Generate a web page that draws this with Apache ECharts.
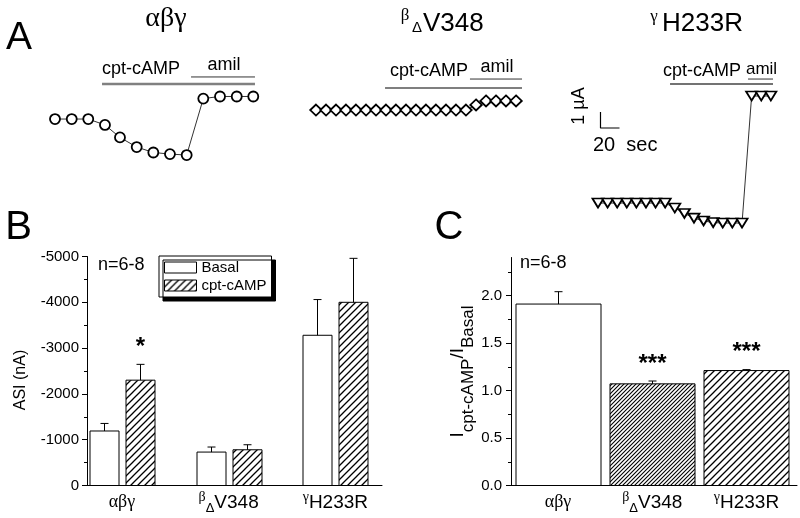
<!DOCTYPE html>
<html>
<head>
<meta charset="utf-8">
<script src="https://cdn.jsdelivr.net/npm/echarts@6.0.0/dist/echarts.min.js"></script>
<style>html,body{margin:0;padding:0;background:#fff;}#chart{width:800px;height:518px;}</style>
</head>
<body>
<div id="chart"></div>
<script>
// ---------------- DATA ----------------
// Panel A: example current traces (time in s, current in µA)
const trace1Time = [57.9, 75.5, 92.9, 110.5, 126.3, 143.9, 161.4, 178.9, 196.5, 214.0, 231.6, 249.2, 266.6];
const trace1Current = [-7.44, -7.44, -7.44, -7.81, -8.59, -9.19, -9.53, -9.63, -9.69, -6.16, -6.03, -6.03, -6.03];
const trace2Time = [332.6, 343.2, 353.7, 364.2, 374.7, 385.3, 395.8, 406.3, 416.8, 427.4, 437.9, 448.4, 458.9, 469.5, 480.0, 490.5, 501.1, 511.6, 522.1, 532.6, 543.2];
const trace2Current = [-6.88, -6.88, -6.88, -6.88, -6.88, -6.88, -6.88, -6.88, -6.88, -6.88, -6.88, -6.88, -6.88, -6.88, -6.88, -6.88, -6.56, -6.31, -6.31, -6.31, -6.31];
const trace3Time = [629.5, 639.6, 649.7, 659.8, 669.9, 680.0, 690.1, 700.2, 710.3, 720.4, 730.5, 740.6, 750.7, 760.8, 770.9, 781.1, 791.2, 801.3, 811.4];
const trace3Current = [-12.69, -12.69, -12.69, -12.69, -12.69, -12.69, -12.69, -12.69, -13.0, -13.34, -13.63, -13.81, -13.91, -13.94, -13.94, -13.94, -6.0, -6.0, -6.0];
const traceNames = ['αβγ', 'βΔV348', 'γH233R'];
const cptStart = [107.4, 405.3, 705.3];
const amilStart = [201.1, 494.7, 787.4];
const treatEnd = [268.4, 549.5, 813.7];
const scaleBarTime = 20;     // sec
const scaleBarCurrent = 1;   // µA

// Panel B: ASI (nA), mean and SEM
const groups = ['αβγ', 'βΔV348', 'γH233R'];
const basalASI = [-1190, -730, -3280];
const basalSEM = [165, 110, 780];
const cptASI = [-2300, -780, -4000];
const cptSEM = [345, 110, 960];
const sigB = ['*', '', ''];
const ticksB = [0, -1000, -2000, -3000, -4000, -5000];

// Panel C: I(cpt-cAMP)/I(Basal)
const ratio = [1.91, 1.07, 1.21];
const ratioSEM = [0.13, 0.03, 0.01];
const sigC = ['', '***', '***'];
const ticksC = [0, 0.5, 1.0, 1.5, 2.0];
const nText = 'n=6-8';

// ---------------- STYLE / LAYOUT ----------------
const SANS = '"Liberation Sans", Arial, Helvetica, sans-serif';
const SERIF = '"Liberation Serif", "Times New Roman", serif';

function hatch(period, lw) {
  const c = document.createElement('canvas');
  c.width = c.height = period;
  const g = c.getContext('2d');
  g.fillStyle = '#fff'; g.fillRect(0, 0, period, period);
  g.strokeStyle = '#000'; g.lineWidth = lw; g.beginPath();
  g.moveTo(0, period); g.lineTo(period, 0);
  g.moveTo(-period / 2, period / 2); g.lineTo(period / 2, -period / 2);
  g.moveTo(period / 2, period * 1.5); g.lineTo(period * 1.5, period / 2);
  g.stroke();
  return { image: c, repeat: 'repeat' };
}
const hatchMed = hatch(7, 1.3);
const hatchDense = hatch(4, 1.1);

const chart = echarts.init(document.getElementById('chart'), null, { renderer: 'canvas' });

const richOf = s => s === 'αβγ' ? `{g|${s}}` :
  (s[1] === 'Δ' ? `{gs|${s[0]}}{ds|${s[1]}}{m|${s.slice(2)}}` : `{gs|${s[0]}}{m|${s.slice(1)}}`);
const xRich = {
  g: { fontFamily: SERIF, fontSize: 18, lineHeight: 24, color: '#000' },
  gs: { fontFamily: SERIF, fontSize: 14, lineHeight: 14, verticalAlign: 'top', color: '#000' },
  ds: { fontFamily: SANS, fontSize: 13, lineHeight: 13, verticalAlign: 'bottom', color: '#000' },
  m: { fontFamily: SANS, fontSize: 19, lineHeight: 24, color: '#000' }
};
const blackLine = { show: true, lineStyle: { color: '#000', width: 1 } };

function catAxis(gridIndex, min, max) {
  return {
    gridIndex, type: 'value', min, max,
    axisLine: { show: true, onZero: false, lineStyle: { color: '#000', width: 1 } },
    axisTick: { show: false }, splitLine: { show: false },
    axisLabel: {
      margin: 5, customValues: groups.map((_, i) => i + 1),
      formatter: v => richOf(groups[Math.round(v) - 1]), rich: xRich, color: '#000'
    }
  };
}

function barSeries(name, xi, yi, values, sems, sig, fills, widthPx, offsetPx) {
  return {
    type: 'custom', name, xAxisIndex: xi, yAxisIndex: yi,
    itemStyle: { color: fills[0], borderColor: '#000', borderWidth: 1 },
    data: values.map((v, i) => [i + 1, v, sems[i]]),
    encode: { x: 0, y: 1 },
    renderItem(params, api) {
      const i = params.dataIndex;
      const x = api.value(0), v = api.value(1), e = api.value(2);
      const p0 = api.coord([x, 0]);
      const p1 = api.coord([x, v]);
      const p2 = api.coord([x, v + Math.sign(v) * e]);
      const cx = Math.round(p0[0] + offsetPx) + 0.5;
      const children = [
        { type: 'rect', shape: { x: cx - widthPx / 2, y: p1[1], width: widthPx, height: p0[1] - p1[1] },
          style: { fill: fills[i % fills.length], stroke: '#000', lineWidth: 1 } },
        { type: 'line', shape: { x1: cx, y1: p1[1], x2: cx, y2: p2[1] }, style: { stroke: '#000', lineWidth: 1 } },
        { type: 'line', shape: { x1: cx - 4, y1: p2[1], x2: cx + 4, y2: p2[1] }, style: { stroke: '#000', lineWidth: 1 } }
      ];
      if (sig[i]) {
        children.push({ type: 'text', x: cx, y: p2[1] - 17,
          style: { text: sig[i], font: `bold 24px ${SANS}`, fill: '#000', align: 'center', verticalAlign: 'middle' } });
      }
      return { type: 'group', children };
    }
  };
}

const traceStyle = (symbol, size, rotate) => ({
  type: 'line', xAxisIndex: 0, yAxisIndex: 0, symbol, symbolSize: size, symbolRotate: rotate || 0,
  showAllSymbol: true, silent: true,
  itemStyle: { color: '#fff', borderColor: '#000', borderWidth: 1.8 },
  lineStyle: { color: '#333', width: 1 }, z: 3
});
const cptLevel = [-5.25, -5.5, -5.25];
const amilLevel = [-4.81, -4.94, -4.94];
const cptStyle = [{ color: '#808080', width: 2.5 }, { color: '#555', width: 1.3 }, { color: '#444', width: 1.3 }];

const series = [
  Object.assign(traceStyle('circle', 10), { data: trace1Time.map((t, i) => [t, trace1Current[i]]) }),
  Object.assign(traceStyle('diamond', [11.5, 11]), { data: trace2Time.map((t, i) => [t, trace2Current[i]]) }),
  Object.assign(traceStyle('triangle', [11, 9], 180), { data: trace3Time.map((t, i) => [t, trace3Current[i]]) })
];
for (let k = 0; k < 3; k++) {
  series.push({ type: 'line', xAxisIndex: 0, yAxisIndex: 0, symbol: 'none', silent: true,
    data: [[cptStart[k], cptLevel[k]], [treatEnd[k], cptLevel[k]]], lineStyle: cptStyle[k] });
  series.push({ type: 'line', xAxisIndex: 0, yAxisIndex: 0, symbol: 'none', silent: true,
    data: [[amilStart[k], amilLevel[k]], [treatEnd[k], amilLevel[k]]], lineStyle: { color: '#333', width: 1 } });
}
const sbX = 632.1, sbY = -8;
series.push({ type: 'line', xAxisIndex: 0, yAxisIndex: 0, symbol: 'none', silent: true,
  data: [[sbX + scaleBarTime, sbY], [sbX, sbY], [sbX, sbY + scaleBarCurrent]], lineStyle: { color: '#000', width: 1.2 } });

series.push(barSeries('Basal', 1, 1, basalASI, basalSEM, ['', '', ''], ['#fff'], 29, -18));
series.push(barSeries('cpt-cAMP', 1, 1, cptASI, cptSEM, sigB, [hatchMed], 29, 18));
series.push(barSeries('ratio', 2, 2, ratio, ratioSEM, sigC, ['#fff', hatchDense, hatchMed], 85, 0));

const option = {
  animation: false,
  backgroundColor: '#fff',
  grid: [
    { left: 0, top: 0, width: 800, height: 240, outerBoundsMode: 'none' },
    { left: 87, top: 256.5, width: 295, height: 229, outerBoundsMode: 'none' },
    { left: 511, top: 257.5, width: 286, height: 228, outerBoundsMode: 'none' }
  ],
  xAxis: [
    { gridIndex: 0, type: 'value', min: 0, max: 800 / 0.95, show: false },
    catAxis(1, 0.673, 3.437),
    catAxis(2, 0.501, 3.536)
  ],
  yAxis: [
    { gridIndex: 0, type: 'value', min: -15, max: 0, show: false },
    { gridIndex: 1, type: 'value', min: -5000, max: 0, interval: 1000, inverse: true,
      name: '{n|ASI (nA)}', nameLocation: 'middle', nameGap: 57,
      nameTextStyle: { fontFamily: SANS, color: '#000', rich: {
        n: { fontFamily: SANS, fontSize: 16, lineHeight: 18, padding: [0, 18, 0, 0], color: '#000' } } },
      axisLine: blackLine, splitLine: { show: false },
      axisTick: { show: true, length: 5, customValues: ticksB, lineStyle: { color: '#000' } },
      minorTick: { show: true, splitNumber: 2, length: 3, lineStyle: { color: '#000' } },
      axisLabel: { customValues: ticksB, formatter: v => String(v), margin: 8, fontFamily: SANS, fontSize: 15, color: '#000' } },
    { gridIndex: 2, type: 'value', min: 0, max: 2.4, interval: 0.5,
      name: '{a|I}{b|cpt-cAMP}{a|/I}{b|Basal}', nameLocation: 'middle', nameGap: 31,
      nameTextStyle: { fontFamily: SANS, color: '#000', rich: {
        a: { fontFamily: SANS, fontSize: 19, lineHeight: 29, verticalAlign: 'top', color: '#000' },
        b: { fontFamily: SANS, fontSize: 17, lineHeight: 17, verticalAlign: 'bottom', color: '#000' } } },
      axisLine: blackLine, splitLine: { show: false },
      axisTick: { show: true, length: 5, customValues: ticksC, lineStyle: { color: '#000' } },
      minorTick: { show: true, splitNumber: 2, length: 3, lineStyle: { color: '#000' } },
      axisLabel: { customValues: ticksC, formatter: v => v.toFixed(1), margin: 9, fontFamily: SANS, fontSize: 15, color: '#000' } }
  ],
  legend: {
    data: [
      { name: 'Basal', itemStyle: { color: '#fff', borderColor: '#000', borderWidth: 1 } },
      { name: 'cpt-cAMP', itemStyle: { color: hatchMed, borderColor: '#000', borderWidth: 1 } }
    ],
    orient: 'vertical', left: 159, top: 256, itemWidth: 32, itemHeight: 11, itemGap: 3,
    padding: [4, 5, 4, 5], icon: 'rect', selectedMode: false,
    backgroundColor: '#fff', borderColor: '#000', borderWidth: 1,
    shadowColor: '#000', shadowOffsetX: 4, shadowOffsetY: 4, shadowBlur: 0,
    textStyle: { fontFamily: SANS, fontSize: 15, color: '#000' }
  },
  series
};
chart.setOption(option);

// --------- text annotations ---------
const T = (text, x, y, size, o = {}) => ({
  type: 'text', x, y, rotation: o.rot || 0, silent: true, z: 10,
  style: { text, font: `${o.weight || 'normal'} ${size}px ${o.family || SANS}`, fill: '#000',
    align: o.align || 'center', verticalAlign: o.va || 'middle' }
});
const px = (t, I) => chart.convertToPixel({ gridIndex: 0 }, [t, I]);
const g = [
  T('A', 19, 38.5, 39), T('B', 18.5, 227.5, 40), T('C', 449, 227.5, 40),
  T(traceNames[0], 166, 19, 28, { family: SERIF }),
  T(traceNames[1][0], 405, 16, 17, { family: SERIF }),
  T(traceNames[1][1], 417, 28, 15),
  T(traceNames[1].slice(2), 423, 23.5, 26, { align: 'left' }),
  T(traceNames[2][0], 654, 17, 17, { family: SERIF }),
  T(traceNames[2].slice(1), 662, 24, 26, { align: 'left' }),
  T('1 µA', 579, 106, 18, { rot: Math.PI / 2 }),
  T('20  sec', 593, 145, 20, { align: 'left' }),
  T(nText, 98, 265, 18, { align: 'left' }),
  T(nText, 520, 263, 18, { align: 'left' })
];
const cptDx = [0, 5, -7], cptDy = [-15, -17, -13], amilDy = [-12, -12, -10], amilSize = [18, 18, 17];
for (let k = 0; k < 3; k++) {
  const p = px(cptStart[k], cptLevel[k]);
  g.push(T('cpt-cAMP', p[0] + cptDx[k], p[1] + cptDy[k], 18, { align: 'left' }));
  const a0 = px(amilStart[k], amilLevel[k]), a1 = px(treatEnd[k], amilLevel[k]);
  g.push(T('amil', (a0[0] + a1[0]) / 2 + 1, a0[1] + amilDy[k], amilSize[k]));
}
chart.setOption({ graphic: g });
</script>
</body>
</html>
